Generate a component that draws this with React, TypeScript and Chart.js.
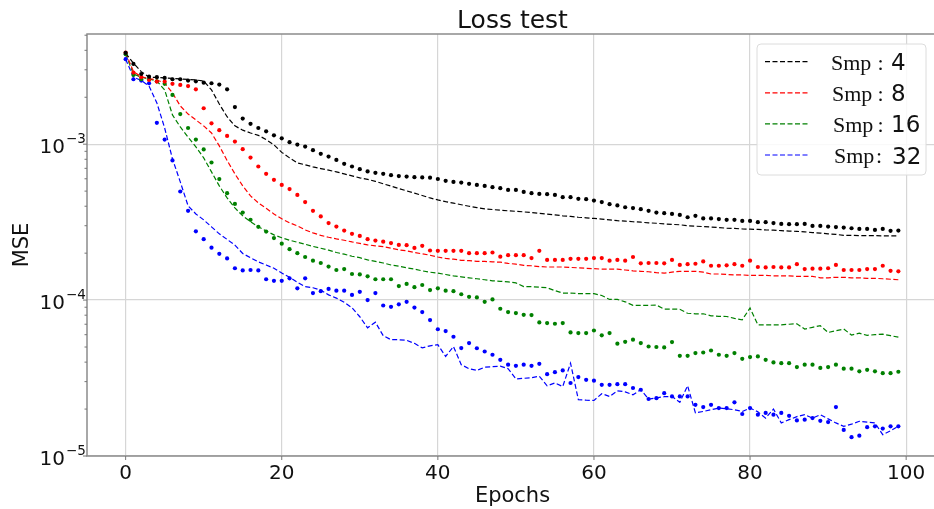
import React, { useEffect, useRef } from "react";
import { Chart, registerables } from "chart.js";

Chart.register(...registerables);

// ---------- data ----------
const epochs = Array.from({ length: 100 }, (_, i) => i);
const xTicks = [0, 20, 40, 60, 80, 100];
const yTicks = [1e-5, 1e-4, 1e-3];
const yTickExponents = ["\u22125", "\u22124", "\u22123"];
const legendNumbers = ["4", "8", "16", "32"];
const seriesColors = ["#000000", "#ff0000", "#008000", "#0000ff"];

const smp4Line = [
  3.83e-3, 3.31e-3, 2.92e-3, 2.69e-3, 2.68e-3, 2.66e-3, 2.64e-3, 2.62e-3, 2.6e-3, 2.58e-3,
  2.54e-3, 2.23e-3, 1.81e-3, 1.5e-3, 1.31e-3, 1.23e-3, 1.18e-3, 1.14e-3, 1.07e-3, 9.9e-4,
  8.86e-4, 8.17e-4, 7.59e-4, 7.37e-4, 7.15e-4, 6.97e-4, 6.81e-4, 6.64e-4, 6.45e-4, 6.26e-4,
  6.08e-4, 5.95e-4, 5.78e-4, 5.57e-4, 5.38e-4, 5.19e-4, 5.02e-4, 4.85e-4, 4.69e-4, 4.52e-4,
  4.39e-4, 4.28e-4, 4.19e-4, 4.09e-4, 4.0e-4, 3.92e-4, 3.85e-4, 3.81e-4, 3.77e-4, 3.74e-4,
  3.71e-4, 3.68e-4, 3.64e-4, 3.6e-4, 3.56e-4, 3.52e-4, 3.47e-4, 3.44e-4, 3.4e-4, 3.37e-4,
  3.34e-4, 3.31e-4, 3.27e-4, 3.23e-4, 3.21e-4, 3.18e-4, 3.16e-4, 3.13e-4, 3.11e-4, 3.08e-4,
  3.06e-4, 3.04e-4, 3.0e-4, 2.98e-4, 2.96e-4, 2.94e-4, 2.92e-4, 2.89e-4, 2.88e-4, 2.86e-4,
  2.85e-4, 2.84e-4, 2.82e-4, 2.81e-4, 2.79e-4, 2.77e-4, 2.76e-4, 2.74e-4, 2.71e-4, 2.69e-4,
  2.66e-4, 2.64e-4, 2.6e-4, 2.6e-4, 2.59e-4, 2.59e-4, 2.59e-4, 2.58e-4, 2.58e-4, 2.58e-4,
];

const smp4Dots = [
  3.85e-3, 3.27e-3, 2.82e-3, 2.71e-3, 2.69e-3, 2.66e-3, 2.61e-3, 2.61e-3, 2.56e-3, 2.53e-3,
  2.48e-3, 2.46e-3, 2.41e-3, 2.25e-3, 1.73e-3, 1.46e-3, 1.35e-3, 1.27e-3, 1.21e-3, 1.14e-3,
  1.09e-3, 1.03e-3, 9.94e-4, 9.65e-4, 9.15e-4, 8.67e-4, 8.33e-4, 7.93e-4, 7.48e-4, 7.19e-4,
  6.91e-4, 6.69e-4, 6.55e-4, 6.45e-4, 6.33e-4, 6.24e-4, 6.2e-4, 6.14e-4, 6.12e-4, 6.1e-4,
  5.98e-4, 5.82e-4, 5.73e-4, 5.67e-4, 5.57e-4, 5.48e-4, 5.4e-4, 5.3e-4, 5.22e-4, 5.09e-4,
  5.09e-4, 4.94e-4, 4.85e-4, 4.8e-4, 4.78e-4, 4.73e-4, 4.57e-4, 4.57e-4, 4.46e-4, 4.44e-4,
  4.35e-4, 4.25e-4, 4.12e-4, 4.05e-4, 3.94e-4, 3.89e-4, 3.83e-4, 3.74e-4, 3.64e-4, 3.61e-4,
  3.57e-4, 3.52e-4, 3.4e-4, 3.47e-4, 3.34e-4, 3.34e-4, 3.31e-4, 3.27e-4, 3.27e-4, 3.22e-4,
  3.22e-4, 3.16e-4, 3.16e-4, 3.12e-4, 3.08e-4, 3.07e-4, 3.07e-4, 3.08e-4, 2.99e-4, 2.99e-4,
  2.96e-4, 2.94e-4, 2.92e-4, 2.89e-4, 2.86e-4, 2.86e-4, 2.82e-4, 2.86e-4, 2.78e-4, 2.79e-4,
];

const smp8Line = [
  3.87e-3, 2.92e-3, 2.71e-3, 2.63e-3, 2.58e-3, 2.47e-3, 2.13e-3, 1.76e-3, 1.56e-3, 1.43e-3,
  1.31e-3, 1.18e-3, 9.75e-4, 7.86e-4, 6.45e-4, 5.4e-4, 4.66e-4, 4.2e-4, 3.88e-4, 3.57e-4,
  3.32e-4, 3.13e-4, 2.99e-4, 2.82e-4, 2.7e-4, 2.6e-4, 2.53e-4, 2.47e-4, 2.42e-4, 2.36e-4,
  2.31e-4, 2.26e-4, 2.23e-4, 2.2e-4, 2.15e-4, 2.1e-4, 2.07e-4, 2.02e-4, 1.98e-4, 1.94e-4,
  1.89e-4, 1.85e-4, 1.83e-4, 1.8e-4, 1.79e-4, 1.77e-4, 1.77e-4, 1.76e-4, 1.75e-4, 1.72e-4,
  1.7e-4, 1.67e-4, 1.66e-4, 1.64e-4, 1.63e-4, 1.63e-4, 1.63e-4, 1.62e-4, 1.61e-4, 1.6e-4,
  1.59e-4, 1.58e-4, 1.58e-4, 1.58e-4, 1.56e-4, 1.54e-4, 1.53e-4, 1.52e-4, 1.5e-4, 1.49e-4,
  1.51e-4, 1.53e-4, 1.53e-4, 1.53e-4, 1.51e-4, 1.47e-4, 1.47e-4, 1.46e-4, 1.45e-4, 1.45e-4,
  1.44e-4, 1.44e-4, 1.44e-4, 1.43e-4, 1.43e-4, 1.43e-4, 1.42e-4, 1.42e-4, 1.42e-4, 1.39e-4,
  1.39e-4, 1.4e-4, 1.4e-4, 1.39e-4, 1.39e-4, 1.38e-4, 1.38e-4, 1.37e-4, 1.36e-4, 1.35e-4,
];

const smp8Dots = [
  3.87e-3, 2.88e-3, 2.69e-3, 2.58e-3, 2.52e-3, 2.52e-3, 2.44e-3, 2.4e-3, 2.36e-3, 2.25e-3,
  1.7e-3, 1.36e-3, 1.23e-3, 1.13e-3, 1.04e-3, 9.29e-4, 8.21e-4, 7.19e-4, 6.45e-4, 5.91e-4,
  5.48e-4, 5.15e-4, 4.73e-4, 4.25e-4, 3.74e-4, 3.44e-4, 3.12e-4, 2.96e-4, 2.79e-4, 2.66e-4,
  2.58e-4, 2.46e-4, 2.41e-4, 2.37e-4, 2.32e-4, 2.26e-4, 2.25e-4, 2.16e-4, 2.23e-4, 2.08e-4,
  2.07e-4, 2.07e-4, 2.07e-4, 2.07e-4, 2.0e-4, 2.0e-4, 2.0e-4, 2.02e-4, 1.9e-4, 1.94e-4,
  1.94e-4, 1.94e-4, 1.86e-4, 2.07e-4, 1.81e-4, 1.81e-4, 1.81e-4, 1.84e-4, 1.84e-4, 1.84e-4,
  1.86e-4, 1.86e-4, 1.79e-4, 1.81e-4, 1.79e-4, 1.89e-4, 1.72e-4, 1.73e-4, 1.73e-4, 1.72e-4,
  1.81e-4, 1.68e-4, 1.7e-4, 1.71e-4, 1.77e-4, 1.66e-4, 1.66e-4, 1.67e-4, 1.7e-4, 1.66e-4,
  1.79e-4, 1.63e-4, 1.62e-4, 1.63e-4, 1.62e-4, 1.62e-4, 1.7e-4, 1.58e-4, 1.59e-4, 1.59e-4,
  1.6e-4, 1.68e-4, 1.56e-4, 1.56e-4, 1.56e-4, 1.58e-4, 1.58e-4, 1.66e-4, 1.54e-4, 1.53e-4,
];

const smp16Line = [
  3.78e-3, 2.82e-3, 2.69e-3, 2.62e-3, 2.54e-3, 2.23e-3, 1.54e-3, 1.29e-3, 1.11e-3, 9.61e-4,
  8.17e-4, 6.64e-4, 5.4e-4, 4.52e-4, 3.9e-4, 3.47e-4, 3.18e-4, 2.95e-4, 2.78e-4, 2.62e-4,
  2.51e-4, 2.42e-4, 2.35e-4, 2.28e-4, 2.21e-4, 2.15e-4, 2.09e-4, 2.02e-4, 1.97e-4, 1.91e-4,
  1.87e-4, 1.81e-4, 1.77e-4, 1.73e-4, 1.68e-4, 1.65e-4, 1.61e-4, 1.58e-4, 1.54e-4, 1.51e-4,
  1.49e-4, 1.46e-4, 1.43e-4, 1.41e-4, 1.39e-4, 1.37e-4, 1.35e-4, 1.33e-4, 1.32e-4, 1.31e-4,
  1.29e-4, 1.22e-4, 1.22e-4, 1.21e-4, 1.2e-4, 1.15e-4, 1.11e-4, 1.11e-4, 1.1e-4, 1.1e-4,
  1.1e-4, 1.07e-4, 1.01e-4, 1.01e-4, 9.75e-5, 9.26e-5, 9.26e-5, 9.26e-5, 9.29e-5, 8.76e-5,
  8.76e-5, 8.73e-5, 8.23e-5, 8.17e-5, 8.17e-5, 7.93e-5, 7.87e-5, 7.85e-5, 7.63e-5, 7.48e-5,
  8.89e-5, 6.94e-5, 6.94e-5, 6.94e-5, 6.94e-5, 7.0e-5, 7.05e-5, 6.52e-5, 6.69e-5, 6.85e-5,
  6.2e-5, 6.36e-5, 6.52e-5, 5.97e-5, 6.13e-5, 5.94e-5, 6.0e-5, 6.05e-5, 5.91e-5, 5.78e-5,
];

const smp16Dots = [
  3.78e-3, 2.78e-3, 2.61e-3, 2.61e-3, 2.53e-3, 2.44e-3, 2.07e-3, 1.56e-3, 1.27e-3, 1.07e-3,
  9.25e-4, 7.63e-4, 5.97e-4, 4.85e-4, 4.14e-4, 3.64e-4, 3.27e-4, 2.95e-4, 2.75e-4, 2.5e-4,
  2.3e-4, 2.12e-4, 2.0e-4, 1.89e-4, 1.79e-4, 1.73e-4, 1.64e-4, 1.56e-4, 1.58e-4, 1.47e-4,
  1.46e-4, 1.42e-4, 1.36e-4, 1.36e-4, 1.36e-4, 1.23e-4, 1.27e-4, 1.21e-4, 1.25e-4, 1.16e-4,
  1.19e-4, 1.15e-4, 1.14e-4, 1.09e-4, 1.05e-4, 1.04e-4, 9.75e-5, 1.01e-4, 8.8e-5, 8.38e-5,
  8.26e-5, 8.05e-5, 8.01e-5, 7.19e-5, 7.12e-5, 7.05e-5, 7.12e-5, 6.2e-5, 6.14e-5, 6.14e-5,
  6.38e-5, 5.94e-5, 6.14e-5, 5.25e-5, 5.4e-5, 5.57e-5, 5.3e-5, 5.04e-5, 5.0e-5, 4.97e-5,
  5.38e-5, 4.39e-5, 4.39e-5, 4.57e-5, 4.61e-5, 4.75e-5, 4.46e-5, 4.39e-5, 4.57e-5, 4.2e-5,
  4.31e-5, 4.35e-5, 4.14e-5, 3.98e-5, 3.94e-5, 3.94e-5, 3.72e-5, 3.85e-5, 3.85e-5, 3.67e-5,
  3.72e-5, 3.85e-5, 3.63e-5, 3.63e-5, 3.49e-5, 3.57e-5, 3.49e-5, 3.4e-5, 3.4e-5, 3.47e-5,
];

const smp32Line = [
  3.51e-3, 2.69e-3, 2.56e-3, 2.36e-3, 1.84e-3, 1.27e-3, 8.05e-4, 5.73e-4, 4.02e-4, 3.57e-4,
  3.27e-4, 2.95e-4, 2.66e-4, 2.45e-4, 2.25e-4, 1.99e-4, 1.87e-4, 1.76e-4, 1.68e-4, 1.6e-4,
  1.49e-4, 1.4e-4, 1.3e-4, 1.22e-4, 1.2e-4, 1.16e-4, 1.08e-4, 1.03e-4, 9.68e-5, 8.93e-5,
  7.82e-5, 6.64e-5, 7.21e-5, 5.91e-5, 5.57e-5, 5.57e-5, 5.52e-5, 5.28e-5, 4.94e-5, 5.09e-5,
  5.17e-5, 4.35e-5, 5.04e-5, 3.85e-5, 3.63e-5, 3.54e-5, 3.71e-5, 3.74e-5, 3.77e-5, 3.63e-5,
  3.12e-5, 3.15e-5, 3.18e-5, 3.25e-5, 2.82e-5, 2.94e-5, 2.79e-5, 3.94e-5, 2.3e-5, 2.28e-5,
  2.27e-5, 2.51e-5, 2.41e-5, 2.62e-5, 2.58e-5, 2.47e-5, 2.66e-5, 2.32e-5, 2.36e-5, 2.4e-5,
  2.41e-5, 2.21e-5, 2.82e-5, 1.89e-5, 1.93e-5, 1.98e-5, 2.03e-5, 2.01e-5, 1.98e-5, 1.93e-5,
  2.03e-5, 1.92e-5, 1.75e-5, 2.0e-5, 1.63e-5, 1.71e-5, 1.79e-5, 1.84e-5, 1.75e-5, 1.84e-5,
  1.73e-5, 1.63e-5, 1.55e-5, 1.6e-5, 1.67e-5, 1.65e-5, 1.63e-5, 1.37e-5, 1.45e-5, 1.55e-5,
];

const smp32Dots = [
  3.51e-3, 2.61e-3, 2.56e-3, 2.46e-3, 1.37e-3, 1.07e-3, 7.87e-4, 4.97e-4, 3.74e-4, 2.76e-4,
  2.46e-4, 2.17e-4, 1.98e-4, 1.85e-4, 1.6e-4, 1.55e-4, 1.56e-4, 1.55e-4, 1.36e-4, 1.33e-4,
  1.33e-4, 1.38e-4, 1.19e-4, 1.38e-4, 1.11e-4, 1.14e-4, 1.18e-4, 1.15e-4, 1.15e-4, 1.08e-4,
  1.13e-4, 1.0e-4, 1.11e-4, 9.23e-5, 9.06e-5, 9.4e-5, 9.75e-5, 8.95e-5, 8.38e-5, 7.44e-5,
  6.5e-5, 6.33e-5, 5.82e-5, 4.92e-5, 5.3e-5, 4.91e-5, 4.68e-5, 4.46e-5, 4.14e-5, 3.85e-5,
  3.79e-5, 3.85e-5, 3.79e-5, 3.9e-5, 3.35e-5, 3.45e-5, 3.54e-5, 2.94e-5, 3.21e-5, 3.08e-5,
  3.04e-5, 2.86e-5, 2.86e-5, 2.89e-5, 2.89e-5, 2.73e-5, 2.66e-5, 2.32e-5, 2.35e-5, 2.53e-5,
  2.41e-5, 2.41e-5, 2.41e-5, 2.13e-5, 2.06e-5, 2.13e-5, 2.03e-5, 2.03e-5, 2.21e-5, 1.86e-5,
  2.03e-5, 1.84e-5, 1.89e-5, 1.84e-5, 1.89e-5, 1.81e-5, 1.69e-5, 1.71e-5, 1.75e-5, 1.68e-5,
  1.65e-5, 2.06e-5, 1.47e-5, 1.32e-5, 1.35e-5, 1.53e-5, 1.55e-5, 1.5e-5, 1.55e-5, 1.55e-5,
];

const lineSeries = [smp4Line, smp8Line, smp16Line, smp32Line];
const dotSeries = [smp4Dots, smp8Dots, smp16Dots, smp32Dots];

// ---------- styling ----------
const SANS = "'DejaVu Sans', sans-serif";
const SERIF = "'Liberation Serif', 'Times New Roman', serif";
const DASH = [5, 2.5];

const toPoints = (vals: number[]) => vals.map((v, i) => ({ x: epochs[i], y: v }));

const overlayPlugin = {
  id: "overlay",
  afterDraw(chart: any) {
    const { ctx, chartArea: a, scales } = chart;
    const xs = scales.x;
    const ys = scales.y;
    ctx.save();

    // spines
    ctx.strokeStyle = "#8c8c8c";
    ctx.lineWidth = 1.5;
    ctx.setLineDash([]);
    ctx.strokeRect(a.left, a.top, a.right - a.left, a.bottom - a.top);

    // tick marks
    ctx.strokeStyle = "#777";
    ctx.lineWidth = 1;
    const seg = (x1: number, y1: number, x2: number, y2: number) => {
      ctx.beginPath();
      ctx.moveTo(x1, y1);
      ctx.lineTo(x2, y2);
      ctx.stroke();
    };
    xTicks.forEach((v) => {
      const px = xs.getPixelForValue(v);
      seg(px, a.bottom, px, a.bottom + 4);
    });
    yTicks.forEach((v) => {
      const py = ys.getPixelForValue(v);
      seg(a.left - 4, py, a.left, py);
    });
    yTicks.forEach((dec) => {
      for (let k = 2; k <= 9; k++) {
        const v = dec * k;
        if (v > ys.max) continue;
        const py = ys.getPixelForValue(v);
        seg(a.left - 2.5, py, a.left, py);
      }
    });

    ctx.fillStyle = "#111";
    // x tick labels
    ctx.font = `20px ${SANS}`;
    ctx.textAlign = "center";
    ctx.textBaseline = "alphabetic";
    xTicks.forEach((v) => {
      ctx.fillText(String(v), xs.getPixelForValue(v), 478.5);
    });

    // y tick labels: 10^exp
    yTicks.forEach((v, i) => {
      const py = ys.getPixelForValue(v);
      ctx.font = `20px ${SANS}`;
      ctx.textAlign = "right";
      ctx.fillText("10", 65, py + 8.5);
      ctx.font = `13.5px ${SANS}`;
      ctx.textAlign = "left";
      ctx.fillText(yTickExponents[i], 66, py - 1);
    });

    // axis titles
    ctx.font = `21px ${SANS}`;
    ctx.textAlign = "center";
    ctx.fillText("Epochs", 512.5, 501.5);
    ctx.save();
    ctx.translate(28, 245);
    ctx.rotate(-Math.PI / 2);
    ctx.fillText("MSE", 0, 0);
    ctx.restore();

    // title
    ctx.font = `25px ${SANS}`;
    ctx.fillText("Loss test", 512.5, 28.3);

    // legend
    const lx = 757, ly = 44, lw = 169, lh = 131, r = 4;
    ctx.beginPath();
    ctx.moveTo(lx + r, ly);
    ctx.lineTo(lx + lw - r, ly);
    ctx.quadraticCurveTo(lx + lw, ly, lx + lw, ly + r);
    ctx.lineTo(lx + lw, ly + lh - r);
    ctx.quadraticCurveTo(lx + lw, ly + lh, lx + lw - r, ly + lh);
    ctx.lineTo(lx + r, ly + lh);
    ctx.quadraticCurveTo(lx, ly + lh, lx, ly + lh - r);
    ctx.lineTo(lx, ly + r);
    ctx.quadraticCurveTo(lx, ly, lx + r, ly);
    ctx.closePath();
    ctx.fillStyle = "rgba(255,255,255,0.85)";
    ctx.fill();
    ctx.strokeStyle = "#dcdcdc";
    ctx.lineWidth = 1;
    ctx.stroke();

    const smpX = [831, 832, 833, 834];
    const colonX = [877.5, 877.5, 877.5, 876];
    const numX = [891, 891, 891, 892];
    legendNumbers.forEach((num, i) => {
      const cy = 61.7 + i * 31.1;
      ctx.strokeStyle = seriesColors[i];
      ctx.lineWidth = 1.2;
      ctx.setLineDash(DASH);
      seg(765, cy, 808, cy);
      ctx.setLineDash([]);
      ctx.fillStyle = "#111";
      ctx.textAlign = "left";
      ctx.font = `22px ${SERIF}`;
      ctx.fillText("Smp", smpX[i], cy + 8);
      ctx.fillText(":", colonX[i], cy + 8);
      ctx.font = `23px ${SANS}`;
      ctx.fillText(num, numX[i], cy + 8.5);
    });

    ctx.restore();
  },
};

export default function App() {
  const canvasRef = useRef<HTMLCanvasElement | null>(null);

  useEffect(() => {
    const canvas = canvasRef.current;
    if (!canvas) return;

    const datasets: any[] = [];
    lineSeries.forEach((vals, i) => {
      datasets.push({
        label: `Smp : ${legendNumbers[i]}`,
        data: toPoints(vals),
        borderColor: seriesColors[i],
        backgroundColor: seriesColors[i],
        borderWidth: 1.2,
        borderDash: DASH,
        pointRadius: 0,
        fill: false,
        tension: 0,
        order: 2,
      });
    });
    dotSeries.forEach((vals, i) => {
      datasets.push({
        label: `dots ${legendNumbers[i]}`,
        data: toPoints(vals),
        showLine: false,
        borderColor: seriesColors[i],
        backgroundColor: seriesColors[i],
        pointBackgroundColor: seriesColors[i],
        pointBorderWidth: 0,
        pointRadius: 2.1,
        order: 1,
      });
    });

    const chart = new Chart(canvas, {
      type: "line",
      data: { datasets },
      options: {
        responsive: false,
        animation: false,
        devicePixelRatio: 1,
        layout: { padding: { top: 34, right: 13, left: 0, bottom: 0 } },
        plugins: {
          legend: { display: false },
          tooltip: { enabled: false },
          title: { display: false },
        },
        scales: {
          x: {
            type: "linear",
            min: -4.95,
            max: 103.95,
            afterBuildTicks: (s: any) => {
              s.ticks = xTicks.map((v) => ({ value: v }));
            },
            afterFit: (s: any) => {
              s.height = 53;
            },
            ticks: { display: false },
            grid: { color: "#d6d6d6", lineWidth: 1.2, drawTicks: false },
            border: { display: false },
          },
          y: {
            type: "logarithmic",
            min: 1e-5,
            max: 5.09e-3,
            afterBuildTicks: (s: any) => {
              s.ticks = yTicks.map((v) => ({ value: v }));
            },
            afterFit: (s: any) => {
              s.width = 87;
            },
            ticks: { display: false },
            grid: { color: "#d6d6d6", lineWidth: 1.2, drawTicks: false },
            border: { display: false },
          },
        },
      } as any,
      plugins: [overlayPlugin],
    });

    return () => chart.destroy();
  }, []);

  return (
    <div
      style={{
        position: "fixed",
        left: 0,
        top: 0,
        width: 934,
        height: 509,
        overflow: "hidden",
        background: "#fff",
      }}
    >
      <canvas
        ref={canvasRef}
        width={950}
        height={509}
        style={{ display: "block", width: 950, height: 509 }}
      />
    </div>
  );
}
